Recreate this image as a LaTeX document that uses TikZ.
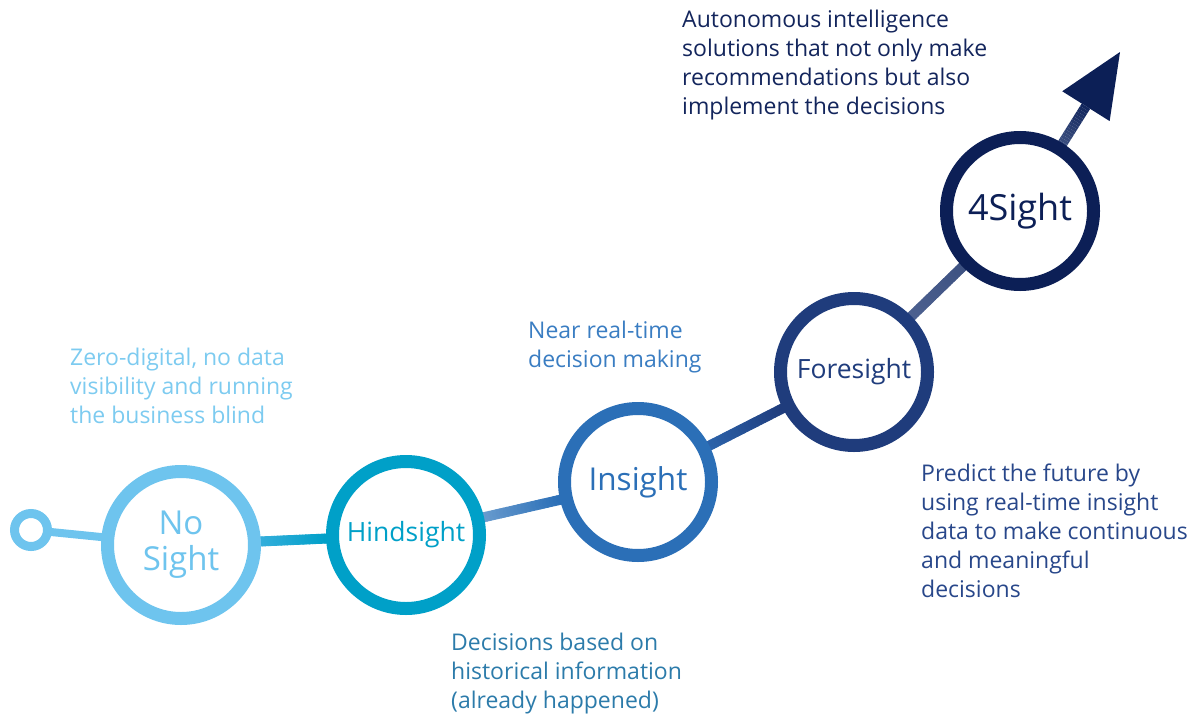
\documentclass[tikz,border=0pt]{standalone}
\usepackage{fontspec}
\setmainfont{Open Sans}
\usetikzlibrary{calc,backgrounds}
\definecolor{cA}{HTML}{6EC4EE}
\definecolor{cB}{HTML}{00A0C8}
\definecolor{cC}{HTML}{2B6FB7}
\definecolor{cD}{HTML}{1F3C7C}
\definecolor{cE}{HTML}{0C1F56}
\definecolor{tA}{HTML}{7DCBF0}
\definecolor{tB}{HTML}{2C7BAA}
\definecolor{tC}{HTML}{3A7DC2}
\definecolor{tD}{HTML}{28478A}
\definecolor{tE}{HTML}{13255C}
\definecolor{gA}{HTML}{3AB0DE}
\definecolor{gB}{HTML}{6E9FD0}
\definecolor{gC}{HTML}{2D66AE}
\definecolor{gD}{HTML}{4E6291}
\definecolor{gE}{HTML}{3E5282}
\definecolor{gF}{HTML}{13275E}
\newcommand{\gradconn}[6]{%
  \coordinate (gp) at ($(#1.center)!#6!(#2.center)$);
  \coordinate (gq) at ($(#2.center)!#6!(#1.center)$);
  \draw[line width=#5,draw=#3] (#1.center) -- (gp);
  \draw[line width=#5,draw=#4] (gq) -- (#2.center);
  \foreach \k in {0,...,23}{%
    \pgfmathsetmacro\pa{100-\k*100/23}%
    \draw[line width=#5,draw=#3!\pa!#4,line cap=round] ($(gp)!{\k/24}!(gq)$) -- ($(gp)!{(\k+1)/24}!(gq)$);
  }%
}
\tikzset{
  ring/.style={circle,fill=white,line width=13pt,minimum size=147pt,inner sep=0pt},
  note/.style={anchor=base west,align=left,inner sep=0pt,font=\fontsize{23}{29}\selectfont}
}
\begin{document}
\begin{tikzpicture}[x=1pt,y=-1pt]
\useasboundingbox (0,0) rectangle (1196,720);
\node[circle,draw=cA,fill=white,line width=9pt,minimum size=33pt,inner sep=0pt] (s0) at (31,530) {};
\node[ring,draw=cA,text=cA,align=center,font=\fontsize{33}{36}\selectfont] (ns) at (181,545) {No\\Sight};
\node[ring,draw=cB,text=cB,font=\fontsize{26.5}{30}\selectfont] (hs) at (406,535) {Hindsight};
\node[ring,draw=cC,text=cC,font=\fontsize{31.5}{36}\selectfont] (is) at (638,482) {Insight};
\node[ring,draw=cD,text=cD,font=\fontsize{26.5}{30}\selectfont] (fs) at (854,372) {Foresight};
\node[ring,draw=cE,text=cE,font=\fontsize{36}{40}\selectfont] (gs) at (1020,211) {4Sight};
\coordinate (tip) at (1120,52);
\begin{scope}[on background layer]
  \draw[line width=8pt,draw=cA] (s0.center) -- (ns.center);
  \gradconn{ns}{hs}{gA}{cB}{10pt}{75pt}
  \gradconn{hs}{is}{gB}{cC}{10pt}{75pt}
  \gradconn{is}{fs}{gC}{cD}{10pt}{75pt}
  \gradconn{fs}{gs}{gD}{gE}{10pt}{75pt}
  \coordinate (ab) at ($(tip)!64pt!(gs.center)$);
  \coordinate (ap) at ($(gs.center)!75pt!(tip)$);
  \draw[line width=10pt,draw=gE] (gs.center) -- (ap);
  \foreach \k in {0,...,15}{%
    \pgfmathsetmacro\pa{100-\k*100/15}%
    \draw[line width=10pt,draw=gE!\pa!gF] ($(ap)!{\k/16}!(ab)$) -- ($(ap)!{(\k+1)/16}!(ab)$);
  }
\end{scope}
\fill[cE] (tip) -- ($(ab)!28pt!90:(tip)$) -- ($(ab)!28pt!-90:(tip)$) -- cycle;
\node[note,text=tA] (t1) at (70,423) {Zero-digital, no data\\visibility and running\\the business blind};
\node[note,text=tC] (t3) at (528,367) {Near real-time\\decision making};
\node[note,text=tB] (t2) at (451,708) {Decisions based on\\historical information\\(already happened)};
\node[note,text=tD] (t4) at (921,597) {Predict the future by\\using real-time insight\\data to make continuous\\and meaningful\\decisions};
\node[note,text=tE] (t5) at (682,114) {Autonomous intelligence\\solutions that not only make\\recommendations but also\\implement the decisions};
\end{tikzpicture}
\end{document}
